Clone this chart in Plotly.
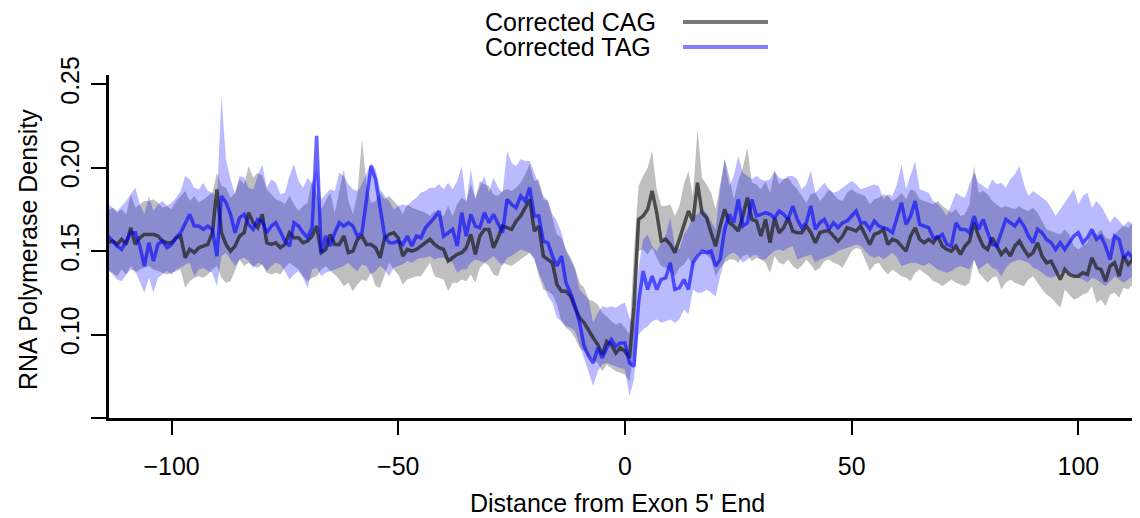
import plotly.graph_objects as go

# Distance from exon 5' end (one value per position)
x = list(range(-114, 115))

cag_mean = [
    .155,.156,.154,.157,.154,.164,.154,.158,.160,.160,.160,.159,.156,.155,.155,.158,.159,.146,.151,.149,.152,.153,.154,.161,.187,.161,.154,.150,.153,.159,.161,.173,.167,.164,.172,.155,.154,.155,.152,
    .154,.161,.158,.158,.155,.156,.159,.165,.149,.151,.160,.154,.154,.159,.149,.150,.157,.159,.154,.154,.152,.146,.158,.160,.161,.158,.147,.151,.150,.151,.153,.155,.157,.154,.152,.151,.144,.146,
    .148,.149,.152,.160,.148,.159,.163,.163,.152,.158,.165,.164,.163,.168,.171,.176,.181,.162,.165,.147,.145,.143,.130,.126,.126,.123,.116,.110,.107,.102,.098,.094,.088,.096,.094,.089,.092,
    .090,.086,.117,.169,.171,.175,.186,.173,.156,.157,.154,.149,.157,.165,.174,.168,.191,.173,.170,.161,.153,.165,.175,.167,.165,.162,.171,.182,.169,.168,.159,.169,.155,.170,.161,.164,.170,.162,
    .161,.161,.165,.161,.155,.161,.162,.162,.159,.156,.159,.164,.163,.162,.165,.159,.154,.160,.161,.163,.154,.157,.156,.153,.150,.159,.164,.157,.155,.157,.155,.159,.153,.151,.150,.153,.148,.153,.156,
    .167,.159,.153,.151,.158,.153,.148,.151,.147,.153,.156,.151,.147,.149,.155,.147,.143,.144,.138,.133,.139,.136,.135,.135,.137,.136,.146,.140,.139,.132,.141,.143,.135,.147,.142,.145,.140,.138,
]
cag_upper = [
    .174,.176,.173,.175,.172,.184,.176,.178,.180,.180,.181,.179,.176,.177,.175,.180,.183,.186,.180,.183,.179,.181,.183,.185,.197,.189,.188,.182,.185,.193,.190,.201,.194,.197,.195,.187,.184,.181,.180,
    .178,.183,.178,.174,.177,.179,.193,.184,.175,.180,.185,.173,.186,.199,.180,.172,.185,.217,.190,.179,.180,.185,.181,.183,.180,.177,.172,.178,.176,.175,.174,.173,.171,.174,.172,.171,.177,.171,
    .178,.182,.180,.190,.181,.192,.190,.189,.184,.183,.186,.187,.186,.188,.191,.196,.202,.192,.193,.181,.180,.170,.160,.158,.151,.146,.140,.131,.128,.121,.120,.118,.113,.111,.108,.106,.107,
    .104,.100,.150,.189,.195,.200,.210,.187,.177,.177,.178,.171,.177,.190,.198,.183,.223,.194,.190,.185,.175,.190,.205,.195,.181,.192,.200,.212,.191,.190,.187,.192,.185,.198,.190,.193,.194,.190,
    .187,.183,.179,.184,.185,.180,.183,.187,.184,.181,.180,.185,.187,.185,.184,.183,.178,.181,.182,.184,.183,.180,.182,.185,.181,.187,.186,.181,.180,.179,.178,.180,.177,.175,.173,.175,.171,.172,.178,
    .201,.185,.186,.184,.180,.178,.176,.177,.176,.175,.177,.175,.174,.176,.173,.168,.163,.162,.161,.160,.163,.160,.153,.151,.153,.155,.162,.160,.163,.158,.157,.160,.163,.165,.164,.167,.162,.161,
]
cag_lower = [
    .138,.137,.135,.139,.136,.141,.137,.139,.140,.141,.139,.138,.137,.136,.137,.138,.139,.128,.132,.134,.135,.134,.136,.139,.141,.134,.131,.132,.138,.145,.141,.143,.141,.140,.142,.137,.136,.137,.136,
    .140,.143,.141,.139,.135,.132,.134,.135,.139,.141,.138,.136,.133,.129,.131,.126,.130,.133,.132,.137,.129,.128,.136,.143,.139,.136,.130,.133,.134,.135,.135,.139,.143,.135,.134,.133,.126,.131,
    .131,.133,.132,.136,.131,.140,.143,.141,.136,.135,.143,.142,.141,.143,.145,.147,.149,.146,.135,.127,.126,.124,.118,.108,.104,.102,.098,.092,.090,.087,.085,.083,.078,.082,.080,.078,.077,
    .076,.072,.090,.150,.151,.148,.152,.146,.141,.140,.138,.135,.140,.142,.146,.141,.149,.151,.148,.145,.135,.140,.143,.145,.145,.143,.147,.148,.144,.146,.145,.143,.137,.147,.143,.142,.145,.141,
    .139,.141,.145,.142,.138,.140,.144,.145,.143,.142,.140,.145,.150,.152,.151,.145,.138,.142,.143,.139,.136,.139,.137,.135,.134,.132,.137,.139,.137,.135,.132,.131,.129,.131,.133,.131,.130,.129,.131,
    .145,.137,.134,.131,.134,.135,.127,.131,.133,.131,.130,.129,.133,.135,.131,.127,.124,.122,.119,.116,.127,.124,.121,.122,.124,.125,.129,.119,.121,.117,.124,.125,.122,.128,.127,.130,.128,.132,
]

tag_mean = [
    .159,.156,.153,.151,.156,.161,.161,.153,.141,.155,.144,.154,.156,.152,.154,.158,.161,.167,.172,.165,.165,.163,.165,.163,.147,.183,.179,.172,.161,.170,.172,.166,.163,.169,.168,.161,.165,.167,.161,
    .156,.153,.167,.165,.161,.158,.164,.219,.149,.159,.153,.161,.167,.165,.167,.165,.159,.161,.183,.201,.193,.177,.159,.155,.155,.156,.154,.159,.153,.159,.158,.164,.167,.170,.174,.159,.161,.163,
    .153,.173,.159,.172,.165,.164,.173,.167,.172,.167,.161,.181,.178,.176,.183,.180,.188,.171,.171,.156,.155,.147,.141,.147,.131,.125,.117,.107,.093,.087,.083,.092,.086,.092,.097,.093,.095,
    .095,.083,.081,.119,.138,.127,.135,.127,.133,.134,.143,.127,.128,.133,.127,.143,.147,.150,.149,.150,.141,.145,.163,.172,.167,.181,.165,.167,.181,.171,.172,.173,.172,.170,.174,.172,.169,.177,
    .169,.164,.167,.177,.163,.167,.169,.163,.167,.164,.167,.168,.171,.174,.167,.167,.163,.168,.165,.164,.163,.161,.171,.179,.166,.171,.180,.166,.165,.164,.158,.158,.160,.154,.153,.167,.163,.163,.161,
    .171,.163,.169,.161,.154,.153,.161,.169,.167,.165,.169,.165,.159,.155,.163,.161,.157,.155,.151,.155,.151,.155,.159,.161,.155,.158,.163,.157,.159,.153,.145,.159,.157,.146,.149,.146,.152,.155,
]
tag_upper = [
    .178,.176,.174,.177,.180,.184,.188,.178,.172,.183,.174,.178,.180,.177,.179,.182,.186,.195,.193,.188,.187,.191,.186,.185,.180,.243,.205,.193,.184,.195,.194,.188,.187,.195,.202,.188,.193,.191,.184,
    .185,.195,.202,.192,.188,.194,.190,.200,.181,.184,.187,.186,.197,.195,.190,.187,.186,.190,.196,.203,.199,.187,.183,.180,.175,.177,.178,.177,.180,.182,.185,.186,.188,.188,.190,.187,.191,.187,
    .192,.201,.179,.199,.182,.188,.195,.185,.194,.188,.185,.210,.203,.201,.205,.204,.204,.197,.190,.183,.180,.172,.168,.161,.150,.145,.139,.127,.124,.121,.107,.113,.117,.116,.117,.116,.118,
    .119,.110,.105,.140,.157,.160,.153,.150,.155,.160,.170,.153,.151,.160,.164,.171,.172,.175,.173,.168,.163,.187,.205,.189,.195,.207,.197,.195,.193,.195,.193,.192,.193,.198,.194,.193,.195,.195,
    .193,.187,.190,.198,.185,.188,.191,.187,.185,.186,.188,.190,.192,.190,.187,.188,.189,.190,.189,.181,.184,.183,.190,.202,.187,.195,.204,.187,.186,.185,.180,.178,.175,.171,.178,.185,.183,.182,.190,
    .197,.191,.189,.187,.193,.190,.191,.188,.193,.196,.201,.190,.183,.186,.184,.182,.180,.176,.171,.175,.179,.183,.187,.178,.183,.185,.176,.180,.177,.172,.167,.171,.168,.165,.168,.166,.167,.163,
]
tag_lower = [
    .139,.136,.133,.132,.136,.139,.138,.131,.125,.134,.125,.134,.136,.138,.136,.139,.140,.142,.143,.135,.139,.140,.138,.137,.129,.147,.149,.145,.141,.145,.146,.144,.140,.143,.142,.138,.141,.143,.142,
    .138,.133,.136,.138,.134,.128,.139,.140,.135,.137,.138,.139,.140,.141,.143,.140,.138,.142,.141,.136,.138,.141,.139,.135,.140,.141,.142,.144,.143,.145,.146,.146,.147,.145,.146,.146,.144,.143,
    .137,.139,.139,.143,.145,.144,.143,.145,.147,.144,.141,.146,.147,.149,.151,.150,.149,.145,.137,.131,.123,.119,.110,.108,.105,.104,.102,.093,.085,.077,.069,.078,.082,.083,.082,.081,.080,
    .079,.063,.073,.100,.103,.105,.108,.109,.107,.108,.109,.107,.109,.115,.112,.127,.125,.125,.127,.125,.123,.135,.145,.148,.149,.147,.143,.145,.147,.148,.145,.145,.148,.150,.151,.150,.152,.153,
    .145,.146,.147,.148,.143,.145,.146,.147,.148,.150,.151,.152,.153,.154,.153,.150,.147,.146,.147,.145,.147,.149,.146,.141,.142,.143,.143,.142,.141,.143,.141,.139,.138,.137,.138,.140,.141,.140,.139,
    .145,.139,.141,.143,.140,.139,.135,.140,.143,.144,.145,.144,.143,.140,.139,.137,.135,.134,.135,.137,.139,.137,.135,.134,.133,.131,.134,.133,.131,.129,.132,.135,.133,.131,.133,.135,.134,.133,
]

series_names = ["Corrected CAG", "Corrected TAG"]
x_ticks = [-100, -50, 0, 50, 100]
y_ticks = [0.05, 0.10, 0.15, 0.20, 0.25]
y_ticktext = ["", "0.10", "0.15", "0.20", "0.25"]

for arr in (cag_mean, cag_upper, cag_lower, tag_mean, tag_upper, tag_lower):
    assert len(arr) == len(x), len(arr)

FONT = "Liberation Sans, Arial, Helvetica, sans-serif"
OFF = 8  # default page body margin
W, H = 1140 - OFF, 518 - OFF
ML, MR, MT, MB = 109 - OFF, 0, 75 - OFF, 100
PW, PH = W - ML - MR, H - MT - MB

def px_x(p):  # page pixel -> paper fraction
    return (p - OFF - ML) / PW

def px_y(p):
    return (H - MB - (p - OFF)) / PH

fig = go.Figure()

# confidence bands
fig.add_trace(go.Scatter(x=x + x[::-1], y=cag_upper + cag_lower[::-1], fill="toself",
                         fillcolor="rgba(0,0,0,0.25)", line=dict(width=0), hoverinfo="skip",
                         showlegend=False))
fig.add_trace(go.Scatter(x=x + x[::-1], y=tag_upper + tag_lower[::-1], fill="toself",
                         fillcolor="rgba(0,0,255,0.27)", line=dict(width=0), hoverinfo="skip",
                         showlegend=False))
# mean lines
fig.add_trace(go.Scatter(x=x, y=cag_mean, mode="lines", name=series_names[0],
                         line=dict(color="rgba(30,30,30,0.72)", width=3.5), showlegend=False))
fig.add_trace(go.Scatter(x=x, y=tag_mean, mode="lines", name=series_names[1],
                         line=dict(color="rgba(0,0,255,0.6)", width=3.5), showlegend=False))

axis_common = dict(showline=True, linecolor="black", linewidth=2.5, showgrid=False,
                   zeroline=False, ticks="outside", tickcolor="black", tickwidth=1.8,
                   tickfont=dict(family=FONT, size=25, color="black"))

fig.update_xaxes(range=[-113.8, 113.6], tickvals=x_ticks, ticklen=14,
                 ticklabelstandoff=10, **axis_common)
fig.update_yaxes(range=[0.05, 0.2555], tickvals=y_ticks, ticktext=y_ticktext,
                 tickangle=-90, ticklen=15, ticklabelstandoff=2, **axis_common)

annotations = [
    dict(text="RNA Polymerase Density", x=px_x(28), y=px_y(250), xref="paper", yref="paper",
         textangle=-90, showarrow=False, xanchor="center", yanchor="middle",
         font=dict(family=FONT, size=25, color="black")),
    dict(text="Distance from Exon 5' End", x=px_x(617), y=px_y(503), xref="paper", yref="paper",
         showarrow=False, xanchor="center", yanchor="middle",
         font=dict(family=FONT, size=25, color="black")),
    dict(text=series_names[0], x=px_x(483), y=px_y(22), xref="paper", yref="paper",
         showarrow=False, xanchor="left", yanchor="middle",
         font=dict(family=FONT, size=25, color="black")),
    dict(text=series_names[1], x=px_x(483), y=px_y(47), xref="paper", yref="paper",
         showarrow=False, xanchor="left", yanchor="middle",
         font=dict(family=FONT, size=25, color="black")),
]
shapes = [
    dict(type="line", xref="paper", yref="paper", x0=px_x(683), x1=px_x(768),
         y0=px_y(22), y1=px_y(22), line=dict(color="rgb(120,120,120)", width=4)),
    dict(type="line", xref="paper", yref="paper", x0=px_x(683), x1=px_x(768),
         y0=px_y(47), y1=px_y(47), line=dict(color="rgb(128,128,255)", width=4)),
]

fig.update_layout(width=W, height=H, margin=dict(l=ML, r=MR, t=MT, b=MB),
                  plot_bgcolor="white", paper_bgcolor="white", showlegend=False,
                  annotations=annotations, shapes=shapes,
                  font=dict(family=FONT, size=25, color="black"))

fig.write_html("out.html")
